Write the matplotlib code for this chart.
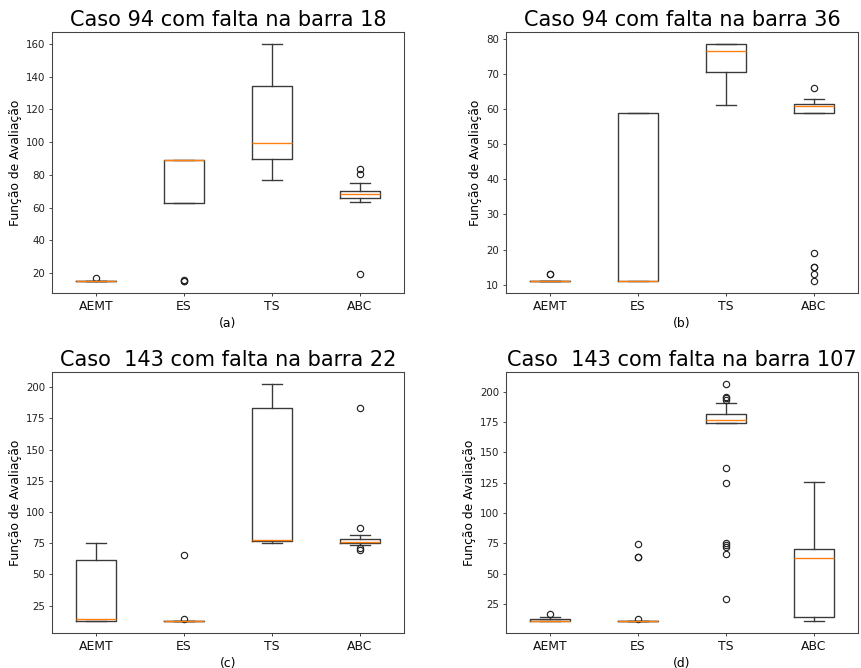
import matplotlib
matplotlib.use('Agg')
import matplotlib.pyplot as plt

# each panel was a 640x480 matplotlib figure shrunk to ~0.7, so draw at dpi 70
DPI = 70
FS = 1.06

methods = ["AEMT", "ES", "TS", "ABC"]
titles = ["Caso 94 com falta na barra 18",
          "Caso 94 com falta na barra 36",
          "Caso  143 com falta na barra 22",
          "Caso  143 com falta na barra 107"]
sublabels = ["(a)", "(b)", "(c)", "(d)"]

# box statistics, order: AEMT, ES, TS, ABC
a_whislo = [15.3, 63.1, 76.8, 63.3]
a_q1 = [15.3, 63.1, 89.8, 65.7]
a_med = [15.3, 89.0, 99.7, 68.1]
a_q3 = [15.3, 89.0, 134.1, 70.2]
a_whishi = [15.3, 89.0, 160.0, 74.8]
a_fliers = [[17.0], [15.3, 15.1, 15.5], [], [83.3, 80.7, 19.2]]

b_whislo = [11.0, 11.0, 61.1, 59.0]
b_q1 = [11.0, 11.0, 70.7, 59.0]
b_med = [11.0, 11.0, 76.6, 60.9]
b_q3 = [11.0, 59.0, 78.6, 61.6]
b_whishi = [11.0, 59.0, 78.6, 63.0]
b_fliers = [[13.0, 13.1], [], [], [66.1, 18.9, 15.1, 14.9, 13.0, 11.0]]

c_whislo = [12.5, 12.5, 75.5, 73.7]
c_q1 = [12.5, 12.5, 76.9, 75.5]
c_med = [14.4, 12.5, 77.4, 76.3]
c_q3 = [61.7, 12.5, 183.0, 78.2]
c_whishi = [75.0, 12.5, 202.7, 81.7]
c_fliers = [[], [14.4, 65.7], [], [183.0, 87.5, 71.5, 69.9]]

d_whislo = [11.0, 11.0, 174.2, 10.8]
d_q1 = [11.0, 11.0, 174.2, 14.3]
d_med = [11.0, 11.0, 177.0, 62.8]
d_q3 = [12.7, 11.0, 181.6, 70.2]
d_whishi = [14.3, 11.0, 190.4, 125.2]
d_fliers = [[16.8], [12.7, 63.9, 64.1, 74.6],
            [206.5, 195.6, 194.5, 193.4, 136.7, 124.9,
             75.6, 73.2, 72.1, 66.3, 29.1], []]

panels = [
    (a_whislo, a_q1, a_med, a_q3, a_whishi, a_fliers),
    (b_whislo, b_q1, b_med, b_q3, b_whishi, b_fliers),
    (c_whislo, c_q1, c_med, c_q3, c_whishi, c_fliers),
    (d_whislo, d_q1, d_med, d_q3, d_whishi, d_fliers),
]

# axes rectangles in figure fractions (left, bottom, width, height)
rects = [(0.0604, 0.5614, 0.4088, 0.3907),
         (0.5877, 0.5614, 0.4088, 0.3907),
         (0.0604, 0.0524, 0.4088, 0.3907),
         (0.5877, 0.0524, 0.4088, 0.3907)]

line = dict(color='#3a3a3a', linewidth=1.4)
fig = plt.figure(figsize=(861 / DPI, 668 / DPI), dpi=DPI)

for k, (wlo, q1, med, q3, whi, fl) in enumerate(panels):
    ax = fig.add_axes(rects[k])
    stats = []
    for i, name in enumerate(methods):
        stats.append({"label": name, "whislo": wlo[i], "q1": q1[i],
                      "med": med[i], "q3": q3[i], "whishi": whi[i],
                      "fliers": fl[i]})
    ax.bxp(stats, positions=[1, 2, 3, 4], widths=0.45,
           boxprops=line, whiskerprops=line, capprops=line,
           medianprops=dict(color='#ff7f0e', linewidth=1.4),
           flierprops=dict(marker='o', markerfacecolor='none',
                           markeredgecolor='#222222', markersize=6.5,
                           markeredgewidth=1.2))
    for s in ax.spines.values():
        s.set_color('#444444')
        s.set_linewidth(1.1)
    ax.set_xticks([1, 2, 3, 4])
    ax.set_xticklabels(methods, fontsize=12 * FS)
    ax.tick_params(axis='y', labelsize=10 * FS, colors='#222222')
    ax.tick_params(axis='x', colors='#111111')
    ax.set_title(titles[k], fontsize=20.3 * FS)
    ax.set_ylabel("Função de Avaliação", fontsize=12 * FS)
    ax.set_xlabel(sublabels[k], fontsize=12 * FS)

fig.savefig("out.png", dpi=DPI)
